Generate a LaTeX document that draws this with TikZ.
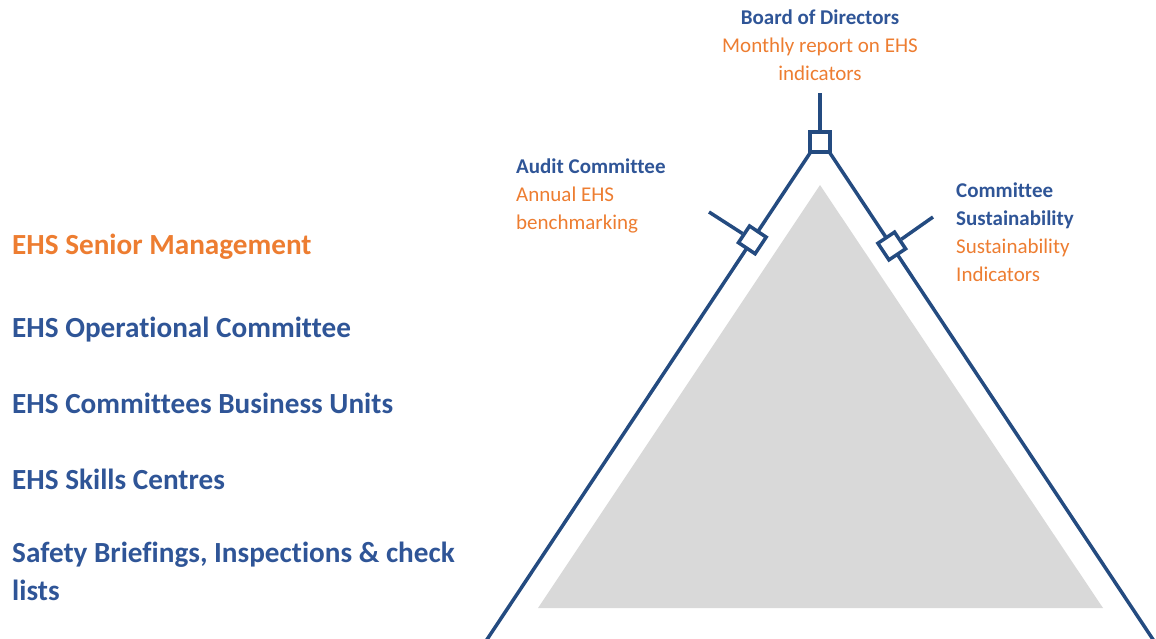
\documentclass[tikz,border=0pt]{standalone}
\usepackage{fontspec}
\setmainfont[Ligatures=NoCommon]{Carlito}
\usetikzlibrary{positioning,calc}
\definecolor{EhsBlue}{HTML}{2F5597}
\definecolor{EhsLine}{HTML}{244B80}
\definecolor{EhsOrange}{HTML}{ED7D31}
\definecolor{EhsGrey}{HTML}{D9D9D9}

\begin{document}
\begin{tikzpicture}[x=1pt,y=-1pt,
  level/.style={font=\fontsize{29.2}{34}\selectfont\bfseries,text=EhsBlue,anchor=base west,inner sep=0},
  head/.style={font=\fontsize{21}{24}\selectfont\bfseries,text=EhsBlue,inner sep=0},
  note/.style={font=\fontsize{21}{24}\selectfont,text=EhsOrange,inner sep=0},
  joint/.style={draw=EhsLine,line width=3.5pt,fill=white,minimum size=20pt,inner sep=0},
  edge/.style={draw=EhsLine,line width=3.5pt}]
\useasboundingbox (0,0) rectangle (1156,638);
% pyramid
\fill[EhsGrey](820,185)--(1103,608)--(538,608)--cycle;
\coordinate (apex) at (820,138);
\coordinate (bl) at (480,650);
\coordinate (br) at (1160,650);
\draw[edge](bl)--(apex)--(br);
% reporting points
\node[joint] (board) at (820,142) {};
\node[joint,rotate=56.3] (audit) at ($(apex)!0.199!(bl)$) {};
\node[joint,rotate=-56.3] (sust) at ($(apex)!0.211!(br)$) {};
\coordinate (boardend) at (820,93);
\coordinate (auditend) at (709,212);
\coordinate (sustend) at (933,217);
\draw[edge](board)--(boardend);
\draw[edge](audit)--(auditend);
\draw[edge](sust)--(sustend);
% labels
\node[head,anchor=base] (boardlab) at (820,24) {Board of Directors};
\node[note,anchor=base] (boardnote1) at (820,52) {Monthly report on EHS};
\node[note,anchor=base] (boardnote2) at (820,80) {indicators};
\node[head,anchor=base west] (auditlab) at (516,173) {Audit Committee};
\node[note,anchor=base west] (auditnote1) at (516,201) {Annual EHS};
\node[note,anchor=base west] (auditnote2) at (516,229) {benchmarking};
\node[head,anchor=base west] (sustlab1) at (956,197) {Committee};
\node[head,anchor=base west] (sustlab2) at (956,225) {Sustainability};
\node[note,anchor=base west] (sustnote1) at (956,253) {Sustainability};
\node[note,anchor=base west] (sustnote2) at (956,281) {Indicators};
% levels
\node[level,text=EhsOrange] (senior) at (12,254) {EHS Senior Management};
\foreach \y/\lab/\nm in {337/EHS Operational Committee/oper,413/EHS Committees Business Units/units,
  489/EHS Skills Centres/skills,562/{Safety Briefings, Inspections \& check}/safety,600/lists/lists}{
\node[level] (\nm) at (12,\y) {\lab};}
\end{tikzpicture}
\end{document}
